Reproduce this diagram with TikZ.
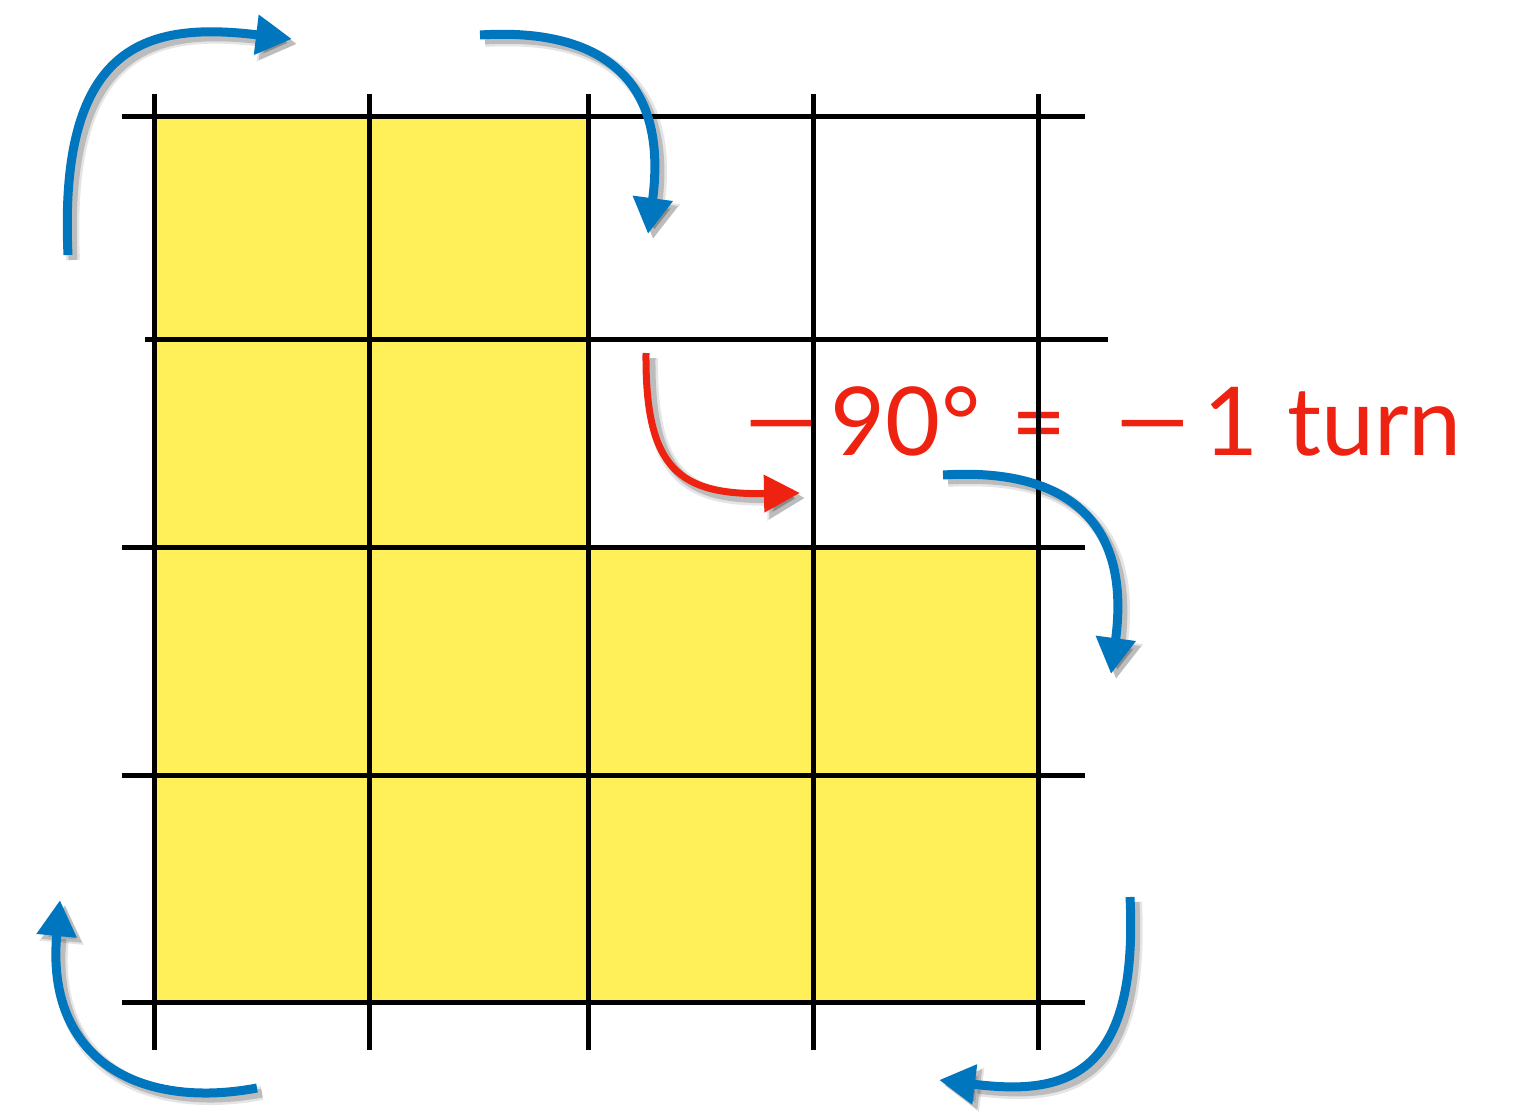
\documentclass[tikz,border=0pt]{standalone}
\usepackage{fontspec}
\usepackage{graphicx}
\setmainfont{Lato}
\usetikzlibrary{arrows.meta}
\definecolor{gridyellow}{RGB}{255,240,90}
\definecolor{arrowblue}{RGB}{0,118,190}
\definecolor{turnred}{RGB}{238,34,17}
\newcommand{\longminus}{\scalebox{1.5}[1]{−}}
\begin{document}
\begin{tikzpicture}[x=1pt,y=-1pt,
  gridline/.style={line width=5pt,black},
  bluearrow/.style={line width=9pt,arrowblue,-{Triangle[length=36pt,width=38pt]}},
  redarrow/.style={line width=7pt,turnred,-{Triangle[length=36pt,width=36pt]}},
  shadowsoft/.style={line width=14pt,black,opacity=0.10,-{Triangle[length=38pt,width=42pt]},transform canvas={shift={(5pt,-5pt)}}},
  shadowcore/.style={line width=9pt,black,opacity=0.18,-{Triangle[length=36pt,width=38pt]},transform canvas={shift={(5pt,-5pt)}}},
  turnlabel/.style={text=turnred,font=\fontsize{95}{100}\selectfont,inner sep=0pt,anchor=base west}
]
\useasboundingbox (0,0) rectangle (1516,1115);

% yellow region
\fill[gridyellow] (154,117) -- (588,117) -- (588,547) -- (1038,547) -- (1038,1002) -- (154,1002) -- cycle;

% label
\node[turnlabel] (lbl) at (740,455) {\longminus\hspace{8pt}90°\hspace{31pt}=\hspace{45pt}\longminus\hspace{9pt}1\hspace{29pt}turn};

% grid
\foreach \x in {154,369,588,813,1038} \draw[gridline] (\x,94) -- (\x,1050);
\foreach \y in {117,547,775,1002} \draw[gridline] (122,\y) -- (1085,\y);
\draw[gridline] (145,340) -- (1108,340);

% arrow end points
\coordinate (a1s) at (68,255);   \coordinate (a1e) at (292,39);
\coordinate (a2s) at (480,35);   \coordinate (a2e) at (648,234);
\coordinate (a3s) at (943,475);  \coordinate (a3e) at (1111,674);
\coordinate (a4s) at (1130,897); \coordinate (a4e) at (939,1080);
\coordinate (a5s) at (257,1088); \coordinate (a5e) at (60,900);
\coordinate (rs) at (646,353);   \coordinate (re) at (800,493);

% shadows
\foreach \s in {shadowsoft,shadowcore}{
  \draw[\s] (a1s) .. controls (58,40) and (150,22) .. (a1e);
  \draw[\s] (a2s) .. controls (590,28) and (670,70) .. (a2e);
  \draw[\s] (a3s) .. controls (1053,468) and (1133,510) .. (a3e);
  \draw[\s] (a4s) .. controls (1139,1082) and (1061,1095) .. (a4e);
  \draw[\s] (a5s) .. controls (140,1110) and (45,1060) .. (a5e);
  \draw[\s] (rs) .. controls (645,470) and (680,495) .. (re);
}

% arrows
\draw[bluearrow] (a1s) .. controls (58,40) and (150,22) .. (a1e);
\draw[bluearrow] (a2s) .. controls (590,28) and (670,70) .. (a2e);
\draw[bluearrow] (a3s) .. controls (1053,468) and (1133,510) .. (a3e);
\draw[bluearrow] (a4s) .. controls (1139,1082) and (1061,1095) .. (a4e);
\draw[bluearrow] (a5s) .. controls (140,1110) and (45,1060) .. (a5e);
\draw[redarrow] (rs) .. controls (645,470) and (680,495) .. (re);
\end{tikzpicture}
\end{document}
